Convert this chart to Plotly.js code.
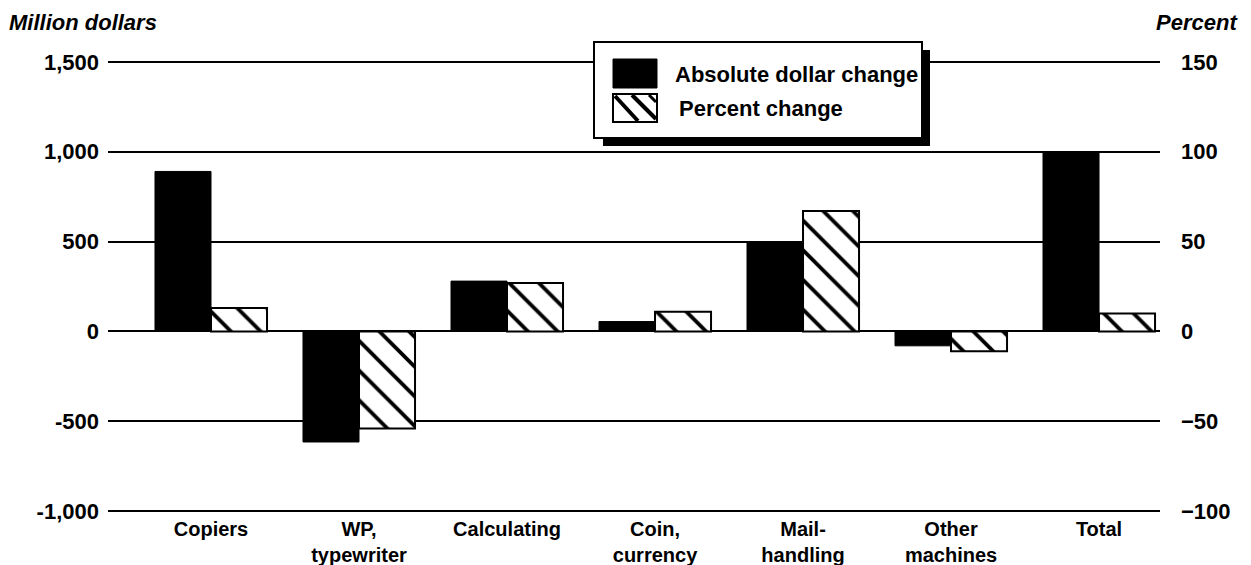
<!DOCTYPE html>
<html>
<head>
<meta charset="utf-8">
<script src="https://cdn.plot.ly/plotly-3.0.1.min.js"></script>
<style>
  html, body { margin: 0; padding: 0; background: #fff; }
  #chart { width: 1251px; height: 565px; }
</style>
</head>
<body>
<div id="chart"></div>
<script>
// ---- data ----
const categories = ['Copiers', 'WP,<br>typewriter', 'Calculating', 'Coin,<br>currency', 'Mail-<br>handling', 'Other<br>machines', 'Total'];
const dollarChange = [890, -615, 280, 55, 500, -80, 1000];
const percentChange = [13, -54, 27, 11, 67, -11, 10];
const leftTickVals = [-1000, -500, 0, 500, 1000, 1500];
const leftTickText = ['-1,000', '-500', '0', '500', '1,000', '1,500'];
const rightTickVals = [-100, -50, 0, 50, 100, 150];
const rightTickText = ['\u2212100', '\u221250', '0', '50', '100', '150'];
const seriesNames = ['Absolute dollar change', 'Percent change'];
const leftTitle = 'Million dollars';
const rightTitle = 'Percent';

// ---- layout helpers (pixel -> paper) ----
const W = 1251, H = 565;
const M = { l: 108, r: 91, t: 60, b: 52 };
const PW = W - M.l - M.r, PH = H - M.t - M.b;
const px = x => (x - M.l) / PW;
const py = y => (H - M.b - y) / PH;

const FONT = 'Liberation Sans, Arial, Helvetica, sans-serif';
const fs = 22;

const traces = [
  {
    type: 'bar', name: seriesNames[0], x: categories, y: dollarChange,
    yaxis: 'y', offsetgroup: 'a',
    marker: { color: '#000', line: { color: '#000', width: 1 } },
    hoverinfo: 'skip'
  },
  {
    type: 'bar', name: seriesNames[1], x: categories, y: percentChange,
    yaxis: 'y2', offsetgroup: 'b',
    marker: {
      color: '#fff',
      line: { color: '#000', width: 2 },
      pattern: { shape: '\\', fgcolor: '#000', bgcolor: '#fff', size: 21, solidity: 0.18, fillmode: 'replace' }
    },
    hoverinfo: 'skip'
  }
];

const shapes = [
  // legend shadow
  { type: 'rect', xref: 'paper', yref: 'paper', x0: px(603), x1: px(930), y0: py(146), y1: py(50),
    fillcolor: '#000', line: { width: 0 }, layer: 'above' },
  // legend box
  { type: 'rect', xref: 'paper', yref: 'paper', x0: px(594), x1: px(922), y0: py(138), y1: py(42),
    fillcolor: '#fff', line: { color: '#000', width: 2 }, layer: 'above' },
  // solid symbol
  { type: 'rect', xref: 'paper', yref: 'paper', x0: px(613), x1: px(657), y0: py(88), y1: py(59),
    fillcolor: '#000', line: { color: '#000', width: 1 }, layer: 'above' },
  // hatched symbol
  { type: 'rect', xref: 'paper', yref: 'paper', x0: px(613), x1: px(657), y0: py(122), y1: py(94),
    fillcolor: '#fff', line: { color: '#000', width: 2 }, layer: 'above' },
  { type: 'line', xref: 'paper', yref: 'paper', x0: px(615), x1: px(638), y0: py(96), y1: py(121),
    line: { color: '#000', width: 4 }, layer: 'above' },
  { type: 'line', xref: 'paper', yref: 'paper', x0: px(632), x1: px(656), y0: py(95), y1: py(119),
    line: { color: '#000', width: 4 }, layer: 'above' },
  { type: 'line', xref: 'paper', yref: 'paper', x0: px(649), x1: px(656), y0: py(95), y1: py(102),
    line: { color: '#000', width: 3 }, layer: 'above' }
];

const annotations = [
  { xref: 'paper', yref: 'paper', x: px(7), y: py(22), xanchor: 'left', yanchor: 'middle', showarrow: false,
    text: leftTitle, font: { family: FONT, size: fs, style: 'italic', weight: 'bold', color: '#000' } },
  { xref: 'paper', yref: 'paper', x: px(1240), y: py(22), xanchor: 'right', yanchor: 'middle', showarrow: false,
    text: rightTitle, font: { family: FONT, size: fs, style: 'italic', weight: 'bold', color: '#000' } },
  { xref: 'paper', yref: 'paper', x: px(673), y: py(75), xanchor: 'left', yanchor: 'middle', showarrow: false,
    text: seriesNames[0], font: { family: FONT, size: fs, weight: 'bold', color: '#000' } },
  { xref: 'paper', yref: 'paper', x: px(677), y: py(108), xanchor: 'left', yanchor: 'middle', showarrow: false,
    text: seriesNames[1], font: { family: FONT, size: fs, weight: 'bold', color: '#000' } }
];

const layout = {
  width: W, height: H,
  margin: M,
  paper_bgcolor: '#fff', plot_bgcolor: '#fff',
  showlegend: false,
  barmode: 'group', bargap: 0.243, bargroupgap: 0,
  font: { family: FONT, size: fs, color: '#000' },
  xaxis: {
    type: 'category', range: [-0.696, 6.412],
    showgrid: false, zeroline: false, showline: false,
    ticks: '', ticklabelstandoff: 2,
    tickfont: { family: FONT, size: 20, weight: 'bold', color: '#000' },
    fixedrange: true
  },
  yaxis: {
    range: [-1010, 1510],
    tickvals: leftTickVals, ticktext: leftTickText,
    showgrid: true, gridcolor: '#000', gridwidth: 2,
    zeroline: false, showline: false, ticks: '',
    ticklabelstandoff: 8,
    tickfont: { family: FONT, size: fs, weight: 'bold', color: '#000' },
    fixedrange: true
  },
  yaxis2: {
    overlaying: 'y', side: 'right',
    range: [-101, 151],
    tickvals: rightTickVals, ticktext: rightTickText,
    showgrid: false, zeroline: false, showline: false, ticks: '',
    ticklabelstandoff: 20,
    tickfont: { family: FONT, size: fs, weight: 'bold', color: '#000' },
    fixedrange: true
  },
  shapes: shapes,
  annotations: annotations
};

Plotly.newPlot('chart', traces, layout, { displayModeBar: false, staticPlot: true });
</script>
</body>
</html>
